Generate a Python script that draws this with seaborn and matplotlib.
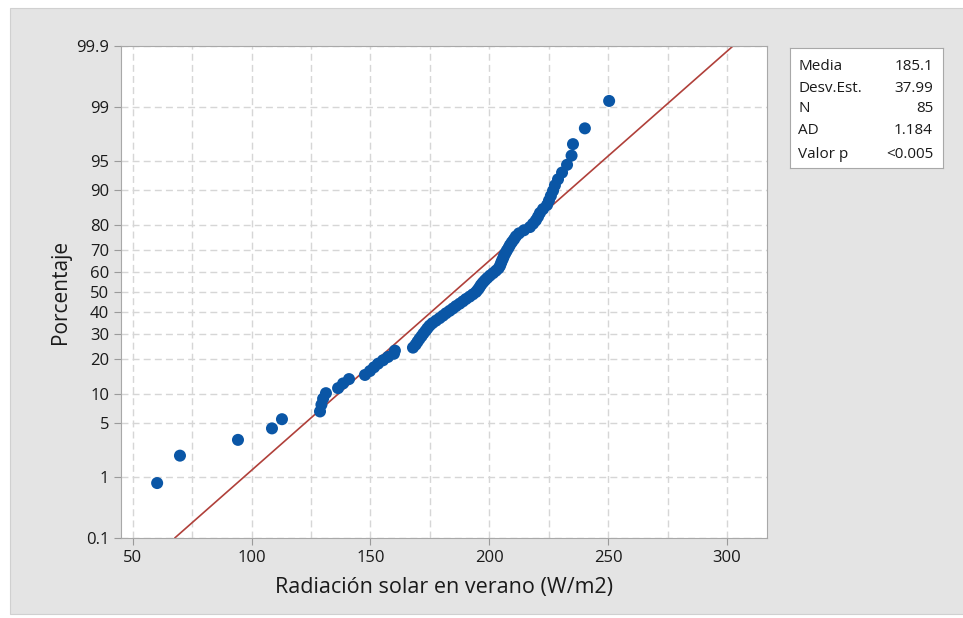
import pandas as pd
import matplotlib.pyplot as plt
import seaborn as sns
from matplotlib.patches import Rectangle
from statistics import NormalDist

# radiacion solar ordenada (W/m2)
radiacion = [60.3, 69.9, 94.3, 108.6, 112.8, 128.8, 129.4, 130.1, 131.3, 136.4,
             138.5, 141.0, 147.7, 149.8, 151.5, 153.2, 155.3, 157.4, 159.9, 160.3,
             167.9, 169.0, 169.8, 170.6, 171.5, 172.3, 173.2, 174.0, 174.9, 176.1,
             177.6, 179.1, 180.5, 181.8, 183.3, 184.7, 186.0, 187.5, 188.9, 190.2,
             191.7, 193.1, 194.4, 195.2, 195.9, 196.5, 197.3, 198.2, 199.2, 200.3,
             201.6, 202.8, 203.9, 204.5, 204.9, 205.3, 205.8, 206.2, 206.8, 207.4,
             208.1, 208.7, 209.5, 210.4, 211.2, 212.5, 214.6, 217.1, 218.4, 219.6,
             220.5, 221.3, 222.6, 224.3, 225.1, 225.9, 226.8, 227.6, 228.9, 230.6,
             232.7, 234.6, 235.2, 240.2, 250.4]

media = 185.1
desv = 37.99
stat_labels = ['Media', 'Desv.Est.', 'N', 'AD', 'Valor p']
stat_values = ['185.1', '37.99', '85', '1.184', '<0.005']

pct_ticks = [0.1, 1, 5, 10, 20, 30, 40, 50, 60, 70, 80, 90, 95, 99, 99.9]
x_ticks = [50, 100, 150, 200, 250, 300]

nd = NormalDist()
n = len(radiacion)
df = pd.DataFrame({'x': radiacion})
df['z'] = [nd.inv_cdf((i + 1 - 0.3) / (n + 0.4)) for i in range(n)]

zlo, zhi = nd.inv_cdf(0.001), nd.inv_cdf(0.999)
fit = pd.DataFrame({'z': [zlo, zhi]})
fit['x'] = media + desv * fit['z']

sns.set_style('white')
plt.rcParams['font.family'] = ['Open Sans', 'DejaVu Sans']
txt = '#1a1a1a'

fig = plt.figure(figsize=(9.63, 6.18), dpi=100, facecolor='white')
fig.patches.append(Rectangle((10 / 963, 4 / 618), 1, 1 - 12 / 618, transform=fig.transFigure,
                             facecolor='#e4e4e4', edgecolor='#d0d0d0', lw=0.8, zorder=-10))

ax = fig.add_axes([121 / 963, 1 - 538 / 618, (767 - 121) / 963, (538 - 46) / 618])
ax.set_facecolor('white')

sns.lineplot(data=fit, x='x', y='z', ax=ax, color='#b0403a', lw=1.2, zorder=2)
sns.scatterplot(data=df, x='x', y='z', ax=ax, color='#0a56a6', s=75, edgecolor='none', zorder=3)

ax.set_xlim(45.1, 316.8)
ax.set_ylim(zlo, zhi)
ax.set_xticks(x_ticks)
ax.set_xticks([75, 125, 175, 225, 275], minor=True)
ax.set_yticks([nd.inv_cdf(p / 100) for p in pct_ticks])
ax.set_yticklabels([str(p) for p in pct_ticks])
ax.grid(True, which='both', color='#d6d6d6', ls=(0, (5, 3)), lw=1)
ax.set_axisbelow(True)
ax.tick_params(axis='both', which='major', direction='out', length=5, color='#9a9a9a',
               labelsize=12, labelcolor=txt, left=True, bottom=True)
ax.tick_params(axis='x', which='minor', length=0)
for s in ax.spines.values():
    s.set_color('#a8a8a8')

ax.set_xlabel('Radiación solar en verano (W/m2)', fontsize=15.5, color=txt, labelpad=8)
ax.set_ylabel('Porcentaje', fontsize=15, color=txt, labelpad=4)

# caja de estadisticas
bx = fig.add_axes([790 / 963, 1 - 168 / 618, 153 / 963, 120 / 618])
bx.set_xticks([])
bx.set_yticks([])
bx.set_facecolor('white')
for s in bx.spines.values():
    s.set_color('#a8a8a8')
ys = [67, 88, 109, 130, 154]
for lab, val, yy in zip(stat_labels, stat_values, ys):
    fy = (168 - yy) / 120
    bx.text(8 / 153, fy, lab, fontsize=11, va='center', ha='left', color=txt)
    bx.text(143 / 153, fy, val, fontsize=11, va='center', ha='right', color=txt)

fig.savefig('out.png', dpi=100, facecolor=fig.get_facecolor())
